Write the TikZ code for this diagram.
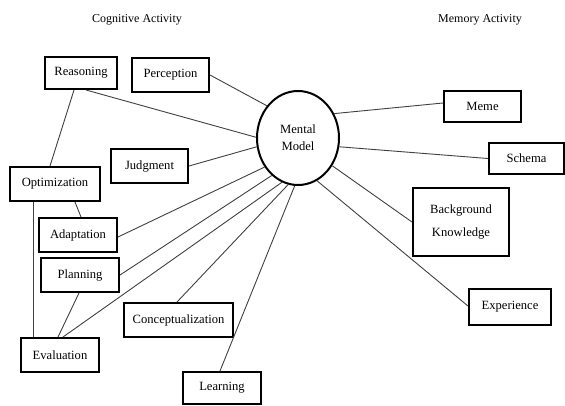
\documentclass[tikz,border=0pt]{standalone}
\usepackage{fontspec}
\setmainfont{Liberation Serif}
\usetikzlibrary{shapes.geometric}
\begin{document}
\begin{tikzpicture}[x=1pt,y=-1pt,
  box/.style={draw=black,line width=2pt,rectangle,inner sep=0pt,minimum height=34pt,align=center,font=\fontsize{12.6}{23}\selectfont},
  conn/.style={draw=black!75,line width=0.9pt},
  title/.style={font=\fontsize{12}{14}\selectfont}]
\useasboundingbox (0,0) rectangle (565,405);
\clip (0,0) rectangle (565,405);
\node[title] (tc) at (137,20) {Cognitive Activity};
\node[title] (tm) at (480,20) {Memory Activity};
\node[draw=black,line width=2pt,ellipse,minimum width=82pt,minimum height=94pt,inner sep=0pt,align=center,font=\fontsize{12.6}{17}\selectfont] (mm) at (298,138) {Mental\\Model};
\node[box,minimum width=72pt,minimum height=32pt] (rea) at (81,73) {Reasoning};
\node[box,minimum width=77pt] (per) at (170.5,75) {Perception};
\node[box,minimum width=77pt] (jud) at (149.5,166) {Judgment};
\node[box,minimum width=90pt] (opt) at (55,184) {Optimization};
\node[box,minimum width=78pt] (ada) at (78,235) {Adaptation};
\node[box,minimum width=78pt] (pla) at (80,275) {Planning};
\node[box,minimum width=109pt] (con) at (178.5,320) {Conceptualization};
\node[box,minimum width=78pt] (eva) at (60,355) {Evaluation};
\node[box,minimum width=78pt,minimum height=32pt] (lea) at (222,388) {Learning};
\node[box,minimum width=77pt,minimum height=31pt] (mem) at (482.5,106.5) {Meme};
\node[box,minimum width=75pt,minimum height=31pt] (sch) at (526.5,158.5) {Schema};
\node[box,minimum width=96pt,minimum height=68pt] (bk) at (461,222) {Background\\Knowledge};
\node[box,minimum width=82pt,minimum height=36pt] (exp) at (510,307) {Experience};
% connectors to the mental model
\draw[conn] ([xshift=5pt]rea.south) -- (mm.179);
\draw[conn] (per.east) -- (mm.134);
\draw[conn] (jud.east) -- (mm.192);
\draw[conn] ([yshift=-2pt]ada.east) -- (mm.221);
\draw[conn] (pla.east) -- (mm.235);
\draw[conn] ([xshift=3pt]eva.north) -- (mm.250);
\draw[conn] ([xshift=-1.5pt]con.north) -- (mm.258);
\draw[conn] ([xshift=-2pt]lea.north) -- (mm.266);
\draw[conn] ([yshift=3.5pt]mem.west) -- (mm.34);
\draw[conn] (sch.west) -- (mm.348);
\draw[conn] (bk.west) -- (mm.321);
\draw[conn] ([yshift=1pt]exp.west) -- (mm.294);
% connectors among cognitive boxes
\draw[conn] ([xshift=-7pt]rea.south) -- ([xshift=-5pt]opt.north);
\draw[conn] ([xshift=20pt]opt.south) -- ([xshift=3pt]ada.north);
\draw[conn] ([xshift=-22pt]opt.south) -- ([xshift=-27pt]eva.north);
\draw[conn] ([xshift=-1pt]pla.south) -- ([xshift=-2pt]eva.north);
\end{tikzpicture}
\end{document}
